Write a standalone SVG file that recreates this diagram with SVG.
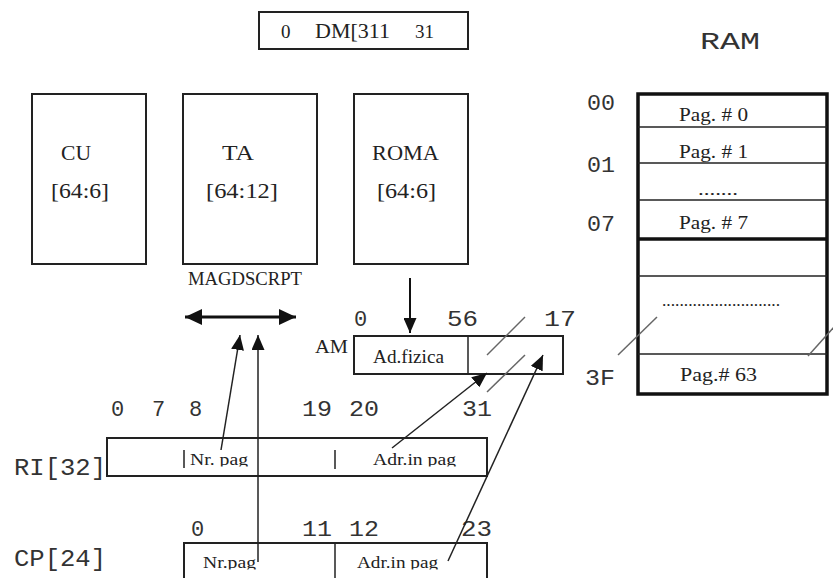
<svg xmlns="http://www.w3.org/2000/svg" width="833" height="578" viewBox="0 0 833 578">
<style>
.box{fill:#fff;stroke:#222;stroke-width:2}
.thin{fill:none;stroke:#222;stroke-width:1.5}
.ram{fill:none;stroke:#111;stroke-width:3.5}
.serif{font-family:"Liberation Serif","Times New Roman",serif;fill:#222}
.mono{font-family:"Liberation Mono","Courier New",monospace;fill:#333}
.conn{fill:none;stroke:#222;stroke-width:1.5}
.gray{fill:none;stroke:#666;stroke-width:1.5}
</style>
<defs>
<marker id="ah" markerUnits="userSpaceOnUse" markerWidth="15" markerHeight="13" refX="15" refY="6.5" orient="auto"><path d="M0,0 L15,6.5 L0,13 z" fill="#111"/></marker>
<marker id="ahb" markerUnits="userSpaceOnUse" markerWidth="17" markerHeight="16" refX="17" refY="8" orient="auto-start-reverse"><path d="M0,0 L17,8 L0,16 z" fill="#111"/></marker>
<clipPath id="clipRI"><rect x="0" y="0" width="833" height="466.5"/></clipPath>
<clipPath id="clipCP"><rect x="0" y="0" width="833" height="569.5"/></clipPath>
</defs>

<g id="dm">
<rect class="box" x="259" y="12" width="209" height="37"/>
<text class="serif" x="281" y="38" font-size="19">0</text>
<text class="serif" x="315" y="38" font-size="20" textLength="75" lengthAdjust="spacingAndGlyphs">DM[311</text>
<text class="serif" x="415" y="38" font-size="19">31</text>
</g>

<g id="cu">
<rect class="box" x="32" y="94" width="114" height="170"/>
<text class="serif" x="61" y="160" font-size="21" textLength="30" lengthAdjust="spacingAndGlyphs">CU</text>
<text class="serif" x="51" y="198" font-size="21" textLength="58" lengthAdjust="spacingAndGlyphs">[64:6]</text>
</g>

<g id="ta">
<rect class="box" x="183" y="94" width="134" height="170"/>
<text class="serif" x="222" y="160" font-size="21" textLength="32" lengthAdjust="spacingAndGlyphs">TA</text>
<text class="serif" x="206" y="198" font-size="21" textLength="72" lengthAdjust="spacingAndGlyphs">[64:12]</text>
<text class="serif" x="188" y="285" font-size="18" textLength="114" lengthAdjust="spacingAndGlyphs">MAGDSCRPT</text>
</g>

<g id="roma">
<rect class="box" x="354" y="94" width="114" height="170"/>
<text class="serif" x="372" y="160" font-size="21" textLength="67" lengthAdjust="spacingAndGlyphs">ROMA</text>
<text class="serif" x="377" y="198" font-size="21" textLength="59" lengthAdjust="spacingAndGlyphs">[64:6]</text>
</g>

<g id="ram">
<text class="mono" x="700" y="49" font-size="24" textLength="60" lengthAdjust="spacingAndGlyphs">RAM</text>
<rect class="ram" x="638" y="94" width="189" height="300"/>
<line class="thin" x1="638" y1="127" x2="827" y2="127"/>
<line class="thin" x1="638" y1="163" x2="827" y2="163"/>
<line class="thin" x1="638" y1="200" x2="827" y2="200"/>
<line class="ram" x1="638" y1="239" x2="827" y2="239"/>
<line class="thin" x1="638" y1="276" x2="827" y2="276"/>
<line class="thin" x1="638" y1="354" x2="827" y2="354"/>
<text class="mono" x="587" y="110" font-size="22" textLength="28" lengthAdjust="spacingAndGlyphs">00</text>
<text class="mono" x="587" y="172" font-size="22" textLength="28" lengthAdjust="spacingAndGlyphs">01</text>
<text class="mono" x="587" y="231" font-size="22" textLength="28" lengthAdjust="spacingAndGlyphs">07</text>
<text class="mono" x="585" y="385" font-size="22" textLength="30" lengthAdjust="spacingAndGlyphs">3F</text>
<text class="serif" x="679" y="121" font-size="19" textLength="69" lengthAdjust="spacingAndGlyphs">Pag. # 0</text>
<text class="serif" x="679" y="158" font-size="19" textLength="69" lengthAdjust="spacingAndGlyphs">Pag. # 1</text>
<text class="serif" x="698" y="195" font-size="16" textLength="40" lengthAdjust="spacingAndGlyphs">.......</text>
<text class="serif" x="679" y="229" font-size="19" textLength="69" lengthAdjust="spacingAndGlyphs">Pag. # 7</text>
<text class="serif" x="662" y="306" font-size="16" fill="#449" textLength="118" lengthAdjust="spacingAndGlyphs">...........................</text>
<text class="serif" x="680" y="381" font-size="19" textLength="77" lengthAdjust="spacingAndGlyphs">Pag.# 63</text>
</g>

<g id="am">
<rect class="box" x="354" y="336" width="209" height="38"/>
<line class="thin" x1="468" y1="336" x2="468" y2="374"/>
<text class="serif" x="315" y="353" font-size="19" textLength="33" lengthAdjust="spacingAndGlyphs">AM</text>
<text class="serif" x="373" y="363" font-size="18" textLength="71" lengthAdjust="spacingAndGlyphs">Ad.fizica</text>
<text class="mono" x="354" y="326" font-size="22">0</text>
<text class="mono" x="447" y="326" font-size="22" textLength="31" lengthAdjust="spacingAndGlyphs">56</text>
<text class="mono" x="544" y="326" font-size="22" textLength="32" lengthAdjust="spacingAndGlyphs">17</text>
</g>

<g id="ri">
<rect class="box" x="107" y="438" width="380" height="38"/>
<line class="thin" x1="184" y1="450" x2="184" y2="468"/>
<line class="thin" x1="335" y1="450" x2="335" y2="469"/>
<text class="mono" x="14" y="475" font-size="24" textLength="92" lengthAdjust="spacingAndGlyphs">RI[32]</text>
<g clip-path="url(#clipRI)">
<text class="serif" x="190" y="465" font-size="17" textLength="58" lengthAdjust="spacingAndGlyphs">Nr. pag</text>
<text class="serif" x="373" y="465" font-size="17" textLength="83" lengthAdjust="spacingAndGlyphs">Adr.in pag</text>
</g>
<text class="mono" x="111" y="416" font-size="22">0</text>
<text class="mono" x="152" y="416" font-size="22">7</text>
<text class="mono" x="189" y="416" font-size="22">8</text>
<text class="mono" x="302" y="416" font-size="22" textLength="30" lengthAdjust="spacingAndGlyphs">19</text>
<text class="mono" x="349" y="416" font-size="22" textLength="30" lengthAdjust="spacingAndGlyphs">20</text>
<text class="mono" x="462" y="416" font-size="22" textLength="30" lengthAdjust="spacingAndGlyphs">31</text>
</g>

<g id="cp">
<rect class="box" x="184" y="543" width="303" height="45"/>
<line class="thin" x1="335" y1="543" x2="335" y2="588"/>
<text class="mono" x="14" y="566" font-size="24" textLength="92" lengthAdjust="spacingAndGlyphs">CP[24]</text>
<g clip-path="url(#clipCP)">
<text class="serif" x="203" y="568" font-size="17" textLength="53" lengthAdjust="spacingAndGlyphs">Nr.pag</text>
<text class="serif" x="357" y="568" font-size="17" textLength="81" lengthAdjust="spacingAndGlyphs">Adr.in pag</text>
</g>
<text class="mono" x="191" y="536" font-size="22">0</text>
<text class="mono" x="302" y="536" font-size="22" textLength="30" lengthAdjust="spacingAndGlyphs">11</text>
<text class="mono" x="349" y="536" font-size="22" textLength="30" lengthAdjust="spacingAndGlyphs">12</text>
<text class="mono" x="461" y="536" font-size="22" textLength="31" lengthAdjust="spacingAndGlyphs">23</text>
</g>

<g id="connectors">
<line x1="185" y1="317" x2="296" y2="317" stroke="#111" stroke-width="3" marker-start="url(#ahb)" marker-end="url(#ahb)"/>
<line x1="410" y1="278" x2="410" y2="333" stroke="#111" stroke-width="2" marker-end="url(#ah)"/>
<line class="conn" x1="221" y1="450" x2="240" y2="335" marker-end="url(#ah)"/>
<line class="conn" x1="258" y1="562" x2="258" y2="335" marker-end="url(#ah)"/>
<line class="conn" x1="392" y1="448" x2="487" y2="373" marker-end="url(#ah)"/>
<line class="conn" x1="448" y1="561" x2="543" y2="355" marker-end="url(#ah)"/>
<line class="gray" x1="487" y1="355" x2="525" y2="317"/>
<line class="gray" x1="487" y1="392" x2="525" y2="355"/>
<line class="gray" x1="618" y1="355" x2="657" y2="317"/>
<line class="gray" x1="808" y1="356" x2="834" y2="327"/>
</g>
</svg>
